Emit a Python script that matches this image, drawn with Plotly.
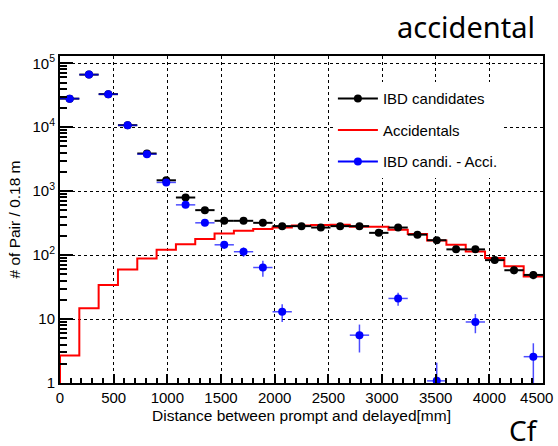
import plotly.graph_objects as go

# Bin setup: 25 bins of 180 mm from 0 to 4500 mm
bin_width = 180
bin_edges = [i * bin_width for i in range(26)]
bin_centers = [e + bin_width / 2 for e in bin_edges[:-1]]

ibd_candidates = [28000, 66500, 32900, 10760, 3880, 1480, 796, 505, 344, 344,
                  320, 284, 284, 270, 284, 284, 223, 270, 209, 171,
                  123, 123, 83.5, 58, 49]
ibd_err = [170, 260, 180, 100, 62, 38, 28, 22, 19, 19,
           18, 17, 17, 16, 17, 17, 15, 16, 14, 13,
           11, 11, 9, 7.6, 7]

accidentals = [2.7, 14.8, 34, 59.7, 88.8, 121, 148, 178, 218, 240,
               255, 271, 291, 295, 298, 278, 277, 250, 213, 170,
               145, 114, 90, 67, 46.5]

subtracted = [28000, 66500, 32800, 10700, 3790, 1370, 611, 320, 145, 113,
              64, 13.0, None, None, None, 5.6, None, 21, None, 1.08,
              None, 9.0, None, None, 2.58]
sub_err = [170, 260, 180, 100, 62, 38, 28, 22, 19, 19,
           18, 4.0, None, None, None, 2.6, None, 4.8, None, 1.0,
           None, 3.0, None, None, 1.6]

x_ticks = [0, 500, 1000, 1500, 2000, 2500, 3000, 3500, 4000, 4500]
x_ticktext = ["0", "500", "1000", "1500", "2000", "2500", "3000", "3500", "4000",
              "4500&nbsp;&nbsp;&nbsp;"]
y_ticks = [1, 10, 100, 1000, 10000, 100000]
y_ticktext = ["1", "10", "10<sup>2</sup>", "10<sup>3</sup>", "10<sup>4</sup>", "10<sup>5</sup>"]
y_minor = [m * 10 ** k for k in range(0, 6) for m in range(2, 10)]

# Accidentals drawn as a ROOT-style histogram outline (starts at axis bottom)
hist_x = [bin_edges[0]] + bin_edges[:-1] + [bin_edges[-1]]
hist_y = [1] + accidentals + [accidentals[-1]]

FONT = "Liberation Sans"

fig = go.Figure()

fig.add_trace(go.Scatter(
    x=hist_x, y=hist_y, mode="lines", line=dict(color="red", width=2, shape="hv"),
    showlegend=False, hoverinfo="skip"))

fig.add_trace(go.Scatter(
    x=bin_centers, y=ibd_candidates, mode="markers",
    marker=dict(color="black", size=8),
    error_x=dict(type="constant", value=bin_width / 2, color="black", thickness=2, width=0),
    error_y=dict(type="data", array=ibd_err, color="black", thickness=2, width=0),
    showlegend=False))

fig.add_trace(go.Scatter(
    x=bin_centers, y=subtracted, mode="markers",
    marker=dict(color="blue", size=8),
    error_x=dict(type="constant", value=bin_width / 2, color="rgba(0,0,255,0.7)", thickness=1.5, width=0),
    error_y=dict(type="data", array=sub_err, color="rgba(0,0,255,0.7)", thickness=1.5, width=0),
    showlegend=False))

# Legend entries
fig.add_trace(go.Scatter(x=[None], y=[None], mode="lines+markers", name="IBD candidates",
                         line=dict(color="black", width=2), marker=dict(color="black", size=8),
                         legendgroup="a"))
fig.add_trace(go.Scatter(x=[None], y=[None], mode="lines", name="Accidentals",
                         line=dict(color="red", width=2), legendgroup="b"))
fig.add_trace(go.Scatter(x=[None], y=[None], mode="lines+markers", name="IBD candi. - Acci.",
                         line=dict(color="blue", width=2), marker=dict(color="blue", size=8),
                         legendgroup="c"))

fig.update_layout(
    width=558, height=446,
    margin=dict(l=60, r=15, t=56, b=63, autoexpand=False),
    paper_bgcolor="white", plot_bgcolor="white",
    font=dict(family=FONT, size=15, color="black"),
    legend=dict(x=0.565, y=0.92, xanchor="left", yanchor="top",
                bgcolor="rgba(255,255,255,1)", borderwidth=0,
                font=dict(family=FONT, size=15), tracegroupgap=9,
                itemwidth=40),
    annotations=[
        dict(text="accidental", x=1.0 - (543 - 537) / 483, y=1.0, xref="paper", yref="paper",
             xanchor="right", yanchor="bottom", showarrow=False, yshift=8,
             font=dict(family="Noto Sans", size=29, color="black")),
        dict(text="Cf", x=0.993, y=-0.145, xref="paper", yref="paper",
             xanchor="right", yanchor="middle", showarrow=False,
             font=dict(family="Noto Sans", size=28, color="black")),
    ],
)

fig.update_xaxes(
    range=[-0.01, 4500.01], tickvals=x_ticks, ticktext=x_ticktext,
    ticks="inside", ticklen=9, tickwidth=1.5,
    tickcolor="black", showline=True, linecolor="black", linewidth=2, mirror=True,
    showgrid=True, gridcolor="black", griddash="dot", gridwidth=1, zeroline=False,
    minor=dict(dtick=100, ticks="inside", ticklen=5, tickwidth=1.5, tickcolor="black", showgrid=False),
    title=dict(text="Distance between prompt and delayed[mm]", font=dict(size=15.5), standoff=5),
    tickfont=dict(size=15), ticklabeloverflow="allow", automargin=False,
)
fig.update_yaxes(
    type="log", range=[0, 5.114], tickvals=y_ticks, ticktext=y_ticktext,
    ticks="inside", ticklen=13, tickwidth=1.5, tickcolor="black",
    showline=True, linecolor="black", linewidth=2, mirror=True,
    showgrid=True, gridcolor="black", griddash="dot", gridwidth=1, zeroline=False,
    minor=dict(tickvals=y_minor, ticks="inside", ticklen=7, tickwidth=1.5, tickcolor="black", showgrid=False),
    title=dict(text="# of Pair / 0.18 m", font=dict(size=15.5), standoff=8),
    tickfont=dict(size=15), automargin=False,
)

fig.write_html("out.html")
